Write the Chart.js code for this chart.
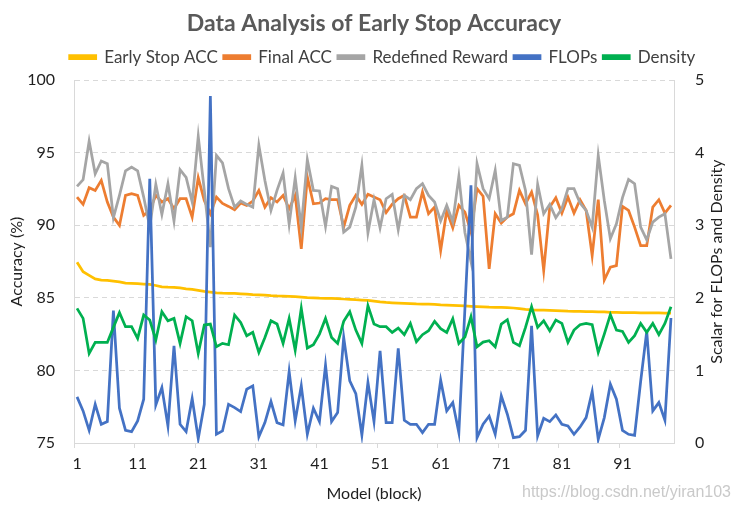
<!DOCTYPE html>
<html><head><meta charset="utf-8">
<script src="https://cdn.jsdelivr.net/npm/chart.js@4.4.0/dist/chart.umd.min.js"></script>
<style>html,body{margin:0;padding:0;background:#fff;}</style>
</head><body>
<canvas id="c" width="737" height="508" style="width:737px;height:508px;display:block"></canvas>
<script>
const categories = Array.from({length: 99}, (_, i) => String(i + 1));
const xTickLabels = ['1','11','21','31','41','51','61','71','81','91'];
const leftTicks = [75, 80, 85, 90, 95, 100];
const rightTicks = [0, 1, 2, 3, 4, 5];

const earlyStopAcc = [87.45,86.8,86.55,86.3,86.22,86.2,86.15,86.1,86.02,86.0,
  85.98,85.95,85.92,85.85,85.75,85.73,85.72,85.68,85.62,85.58,
  85.52,85.45,85.4,85.35,85.32,85.3,85.3,85.28,85.25,85.22,
  85.2,85.18,85.15,85.13,85.12,85.1,85.08,85.05,85.02,85.0,
  84.98,84.97,84.96,84.95,84.92,84.9,84.87,84.85,84.82,84.78,
  84.72,84.68,84.66,84.64,84.62,84.6,84.58,84.57,84.56,84.55,
  84.52,84.5,84.48,84.46,84.44,84.42,84.4,84.38,84.36,84.35,
  84.34,84.33,84.3,84.25,84.2,84.17,84.16,84.15,84.14,84.12,
  84.1,84.08,84.07,84.06,84.05,84.05,84.04,84.03,84.0,84.0,
  83.99,83.98,83.98,83.97,83.97,83.96,83.96,83.95,83.95];

const finalAcc = [91.94,91.44,92.59,92.40,93.09,91.60,90.56,89.99,92.06,92.17,
  92.06,90.68,91.02,92.06,91.60,91.83,91.14,91.83,91.83,90.56,
  93.28,91.71,90.79,91.94,91.50,91.30,91.07,91.53,91.37,91.67,
  92.40,91.25,91.90,91.60,92.06,91.14,92.06,88.37,93.32,91.48,
  91.53,91.83,91.76,91.76,89.87,91.37,92.06,91.44,92.13,91.94,
  91.76,90.88,91.45,91.83,92.06,90.56,90.56,92.29,90.79,91.25,
  88.26,91.0,89.82,91.37,90.9,89.53,92.52,92.0,86.99,90.79,
  90.15,90.56,90.79,92.40,91.48,92.29,90.7,86.88,91.25,91.90,
  90.84,91.94,90.84,91.76,91.02,87.91,91.76,86.23,87.11,87.22,
  91.30,91.02,89.87,88.60,88.60,91.25,91.76,90.84,91.37];

const redefinedReward = [92.68,93.14,95.79,93.55,94.43,94.24,90.52,92.06,93.74,94.01,
  93.74,91.94,89.87,92.82,90.75,92.86,90.29,93.83,93.30,91.60,
  96.13,92.40,88.49,94.82,94.29,92.52,91.25,91.67,91.44,91.25,
  95.51,93.09,91.02,92.40,93.60,90.06,93.28,89.87,94.52,92.40,
  92.36,89.92,92.68,92.52,89.53,89.87,91.25,94.13,89.48,91.76,
  89.82,91.83,92.13,89.69,92.06,91.76,92.52,92.86,92.06,91.60,
  90.30,91.37,90.25,93.37,89.5,87.5,94.24,92.52,91.83,93.78,
  90.33,90.56,94.24,94.13,92.40,87.98,92.82,90.79,91.44,90.52,
  91.14,92.52,92.52,91.53,91.02,89.87,94.82,91.71,89.07,90.10,
  91.90,93.16,92.86,89.87,89.00,90.22,90.56,90.79,87.68];

const flops = [0.635,0.442,0.175,0.534,0.258,0.295,1.823,0.479,0.175,0.157,
  0.304,0.603,3.64,0.525,0.764,0.235,1.34,0.258,0.157,0.612,
  0.06,0.534,4.78,0.12,0.166,0.534,0.488,0.433,0.741,0.787,
  0.087,0.281,0.571,0.281,0.249,0.985,0.304,0.787,0.12,0.479,
  0.295,1.073,0.295,0.419,1.455,0.856,0.681,0.11,0.833,0.295,
  1.271,0.281,0.281,1.303,0.313,0.258,0.258,0.143,0.258,0.258,
  0.866,0.442,0.557,0.142,1.85,3.55,0.073,0.26,0.37,0.12,
  0.649,0.396,0.074,0.087,0.175,1.616,0.097,0.341,0.295,0.387,
  0.258,0.235,0.12,0.221,0.35,0.709,0.051,0.35,0.81,0.603,
  0.175,0.12,0.106,0.85,1.538,0.442,0.557,0.313,1.722];

const density = [1.855,1.717,1.234,1.386,1.386,1.386,1.593,1.796,1.602,1.602,
  1.441,1.763,1.694,1.418,1.809,1.685,1.717,1.372,1.740,1.685,
  1.234,1.625,1.639,1.326,1.372,1.354,1.763,1.662,1.478,1.524,
  1.248,1.455,1.685,1.639,1.372,1.717,1.280,1.855,1.308,1.354,
  1.501,1.717,1.455,1.372,1.676,1.809,1.556,1.372,1.892,1.639,
  1.602,1.602,1.524,1.584,1.492,1.648,1.395,1.492,1.547,1.676,
  1.575,1.524,1.712,1.372,1.46,1.740,1.326,1.39,1.409,1.326,
  1.639,1.699,1.386,1.340,1.593,1.878,1.593,1.685,1.547,1.694,
  1.648,1.386,1.556,1.630,1.648,1.630,1.248,1.501,1.768,1.556,
  1.538,1.386,1.478,1.648,1.524,1.648,1.492,1.648,1.878];

const FONT = 'Lato, "Open Sans", sans-serif';
const TXT = '#1f1f1f';
const GRID = '#d9d9d9';

function line(label, data, color, axis, order) {
  return {label, data, borderColor: color, backgroundColor: color, borderWidth: 2.75,
    pointRadius: 0, pointHoverRadius: 0, tension: 0, fill: false, yAxisID: axis, order};
}

const extraText = {
  id: 'extraText',
  afterDraw(chart) {
    const ctx = chart.ctx;
    ctx.save();
    ctx.fillStyle = TXT;
    ctx.font = '16px ' + FONT;
    ctx.textAlign = 'center';
    ctx.textBaseline = 'middle';
    ctx.translate(717, (chart.chartArea.top + chart.chartArea.bottom) / 2);
    ctx.rotate(-Math.PI / 2);
    ctx.fillText('Scalar for FLOPs and Density', 0, 0);
    ctx.restore();
    ctx.save();
    ctx.fillStyle = 'rgba(195,195,195,0.9)';
    ctx.font = '16px "Liberation Sans", Arial, sans-serif';
    ctx.textAlign = 'right';
    ctx.textBaseline = 'middle';
    ctx.fillText('https://blog.csdn.net/yiran103', 731, 493);
    ctx.restore();
  }
};

new Chart(document.getElementById('c'), {
  type: 'line',
  data: {
    labels: categories,
    datasets: [
      line('Early Stop ACC', earlyStopAcc, '#FFC000', 'y', 5),
      line('Final ACC', finalAcc, '#ED7D31', 'y', 4),
      line('Redefined Reward', redefinedReward, '#A5A5A5', 'y', 3),
      line('FLOPs', flops, '#4472C4', 'y1', 2),
      line('Density', density, '#00B050', 'y1', 1)
    ]
  },
  options: {
    responsive: false,
    animation: false,
    devicePixelRatio: 1,
    layout: {padding: {left: 28, right: 0, top: 0, bottom: 0}},
    plugins: {
      tooltip: {enabled: false},
      title: {
        display: true,
        fullSize: false,
        text: 'Data Analysis of Early Stop Accuracy',
        color: '#595959',
        font: {family: FONT, size: 23, weight: 'bold'},
        padding: {top: 10, bottom: 5}
      },
      subtitle: {
        display: true,
        position: 'top',
        weight: 900,
        text: '',
        font: {size: 1},
        padding: {top: 0, bottom: 3.3}
      },
      legend: {
        display: true,
        labels: {
          color: '#404040',
          font: {family: FONT, size: 17},
          boxWidth: 26,
          boxHeight: 3,
          padding: 6,
          sort: (a, b) => a.datasetIndex - b.datasetIndex
        }
      }
    },
    scales: {
      x: {
        type: 'category',
        offset: true,
        grid: {
          offset: true,
          drawOnChartArea: false,
          drawTicks: true,
          tickLength: 5,
          color: (c) => (c.index % 10 === 0 ? GRID : 'rgba(0,0,0,0)')
        },
        border: {display: true, color: GRID, width: 1},
        ticks: {
          autoSkip: false,
          maxRotation: 0,
          minRotation: 0,
          color: TXT,
          font: {family: FONT, size: 16},
          padding: 6,
          callback: function (v) {
            const l = this.getLabelForValue(v);
            return xTickLabels.includes(l) ? l : '';
          }
        },
        title: {display: true, text: 'Model (block)', color: TXT, font: {family: FONT, size: 16}, padding: {top: 0, bottom: 5}},
        afterFit: (s) => { s.height = 65; }
      },
      y: {
        position: 'left',
        min: leftTicks[0],
        max: leftTicks[leftTicks.length - 1],
        afterBuildTicks: (s) => { s.ticks = leftTicks.map(v => ({value: v})); },
        grid: {
          drawTicks: false,
          color: (c) => (c.tick && c.tick.value === leftTicks[0] ? 'rgba(0,0,0,0)' : GRID)
        },
        border: {display: true, color: GRID, width: 1, dash: [5, 4]},
        ticks: {color: TXT, font: {family: FONT, size: 16}, padding: 19},
        title: {display: true, text: 'Accuracy (%)', color: TXT, font: {family: FONT, size: 16}, padding: {top: -21, bottom: 0}},
        afterFit: (s) => { s.width = 46; }
      },
      y1: {
        position: 'right',
        min: rightTicks[0],
        max: rightTicks[rightTicks.length - 1],
        afterBuildTicks: (s) => { s.ticks = rightTicks.map(v => ({value: v})); },
        grid: {drawOnChartArea: false, drawTicks: false},
        border: {display: true, color: GRID, width: 1},
        ticks: {color: TXT, font: {family: FONT, size: 16}, padding: 21},
        afterFit: (s) => { s.width = 63; }
      }
    }
  },
  plugins: [extraText]
});
</script>
</body></html>
